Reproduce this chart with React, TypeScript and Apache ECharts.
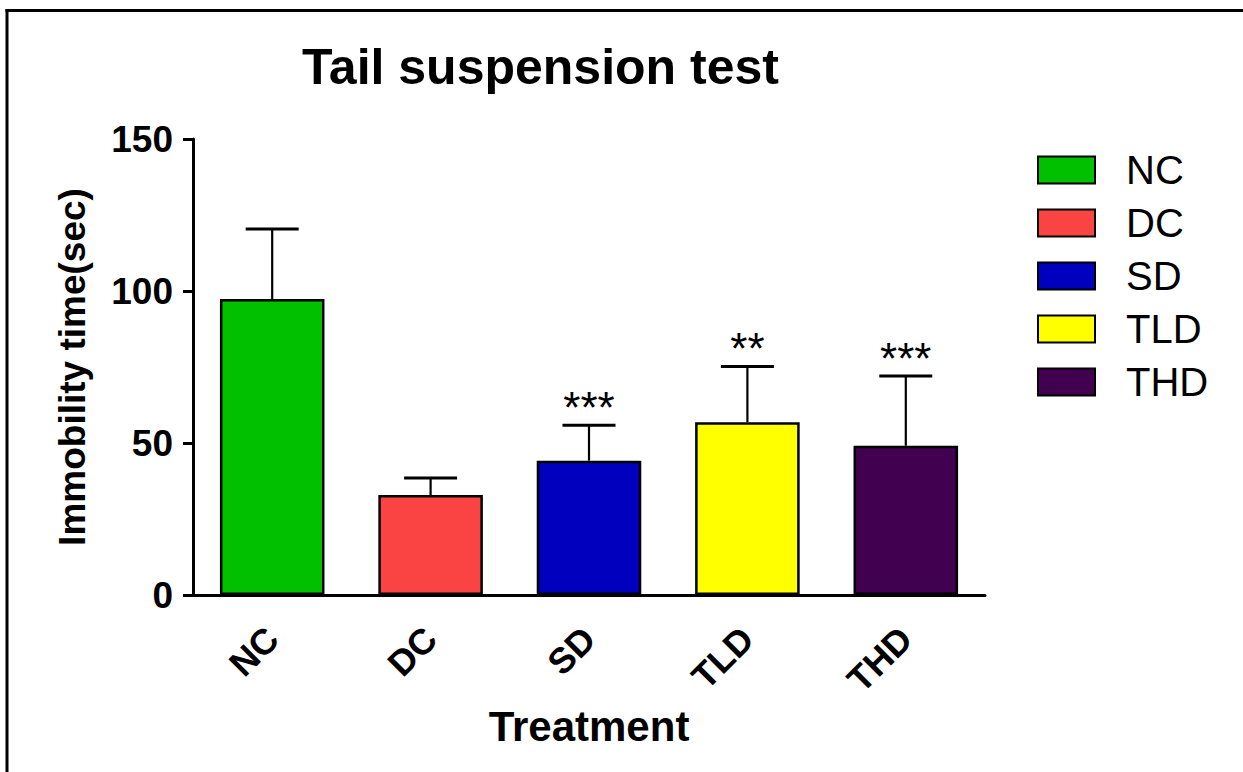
import React, { useEffect, useRef } from 'react';
import * as echarts from 'echarts';

const categories = ['NC', 'DC', 'SD', 'TLD', 'THD'];
const means = [97.4, 32.9, 44.2, 56.8, 49.1];
const errors = [23.0, 5.6, 11.6, 18.4, 22.9];
const significance = ['', '', '***', '**', '***'];
const colors = ['#00c000', '#fa4444', '#0000be', '#ffff00', '#410050'];
const yMin = 0;
const yMax = 150;
const yInterval = 50;

const FONT = 'Arial, "Liberation Sans", Helvetica, sans-serif';

export default function App() {
  const ref = useRef<HTMLDivElement>(null);

  useEffect(() => {
    if (!ref.current) return;
    document.body.style.margin = '0';
    document.body.style.overflow = 'hidden';
    const chart = echarts.init(ref.current, null, { renderer: 'svg' });

    const barSeries = categories.map((name, i) => ({
      type: 'bar',
      name,
      data: categories.map((_, j) => (j === i ? means[i] : '-')),
      barWidth: '66%',
      barGap: '-100%',
      itemStyle: { color: colors[i], borderColor: '#000', borderWidth: 2.5 },
      z: 2,
    }));

    const errorSeries = {
      type: 'custom',
      name: 'error',
      z: 3,
      data: categories.map((_, i) => [i, means[i], means[i] + errors[i]]),
      renderItem: (params: any, api: any) => {
        const base = api.coord([api.value(0), api.value(1)]);
        const top = api.coord([api.value(0), api.value(2)]);
        const half = 26.5;
        const children: any[] = [
          {
            type: 'line',
            shape: { x1: base[0], y1: base[1], x2: top[0], y2: top[1] },
            style: { stroke: '#000', lineWidth: 2.2 },
          },
          {
            type: 'line',
            shape: { x1: top[0] - half, y1: top[1], x2: top[0] + half, y2: top[1] },
            style: { stroke: '#000', lineWidth: 3 },
          },
        ];
        const sig = significance[params.dataIndex];
        if (sig) {
          children.push({
            type: 'text',
            style: {
              text: sig,
              x: top[0],
              y: top[1] - 18,
              align: 'center',
              verticalAlign: 'middle',
              font: `44px ${FONT}`,
              fill: '#000',
            },
          });
        }
        return { type: 'group', children };
      },
    };

    chart.setOption({
      animation: false,
      backgroundColor: '#fff',
      title: {
        text: 'Tail suspension test',
        left: 302,
        top: 42,
        padding: 0,
        textStyle: { fontFamily: FONT, fontWeight: 'bold', fontSize: 50, color: '#000' },
      },
      legend: {
        orient: 'vertical',
        left: 1037,
        top: 150,
        padding: 0,
        itemWidth: 57,
        itemHeight: 27,
        itemGap: 13,
        icon: 'rect',
        data: categories,
        selectedMode: false,
        textStyle: { fontFamily: FONT, fontSize: 40, color: '#000', padding: [0, 0, 0, 26] },
      },
      grid: {
        left: 193,
        right: 258,
        top: 139,
        bottom: 177,
        containLabel: false,
        outerBoundsMode: 'none',
      },
      xAxis: {
        type: 'category',
        data: categories,
        name: 'Treatment',
        nameLocation: 'middle',
        nameGap: 106,
        nameTextStyle: { fontFamily: FONT, fontWeight: 'bold', fontSize: 42, color: '#000' },
        axisLine: { lineStyle: { color: '#000', width: 3 } },
        axisTick: { alignWithLabel: true, length: 12, lineStyle: { color: '#000', width: 3 } },
        axisLabel: {
          rotate: 45,
          margin: 38,
          fontFamily: FONT,
          fontWeight: 'bold',
          fontSize: 36,
          color: '#000',
        },
      },
      yAxis: {
        type: 'value',
        min: yMin,
        max: yMax,
        interval: yInterval,
        name: 'Immobility time(sec)',
        nameLocation: 'middle',
        nameRotate: 90,
        nameGap: 102,
        nameTextStyle: { fontFamily: FONT, fontWeight: 'bold', fontSize: 37, color: '#000' },
        splitLine: { show: false },
        axisLine: { show: true, lineStyle: { color: '#000', width: 3 } },
        axisTick: { show: true, length: 10, lineStyle: { color: '#000', width: 3 } },
        axisLabel: {
          margin: 20,
          fontFamily: FONT,
          fontWeight: 'bold',
          fontSize: 37,
          color: '#000',
        },
      },
      graphic: [
        {
          type: 'line',
          shape: { x1: 7, y1: 9, x2: 7, y2: 772 },
          style: { stroke: '#000', lineWidth: 3 },
          silent: true,
        },
        {
          type: 'line',
          shape: { x1: 5.5, y1: 10.5, x2: 1243, y2: 10.5 },
          style: { stroke: '#000', lineWidth: 3 },
          silent: true,
        },
      ],
      series: [...barSeries, errorSeries],
    });

    return () => chart.dispose();
  }, []);

  return (
    <div
      ref={ref}
      style={{ position: 'absolute', left: 0, top: 0, width: 1243, height: 772 }}
    />
  );
}
